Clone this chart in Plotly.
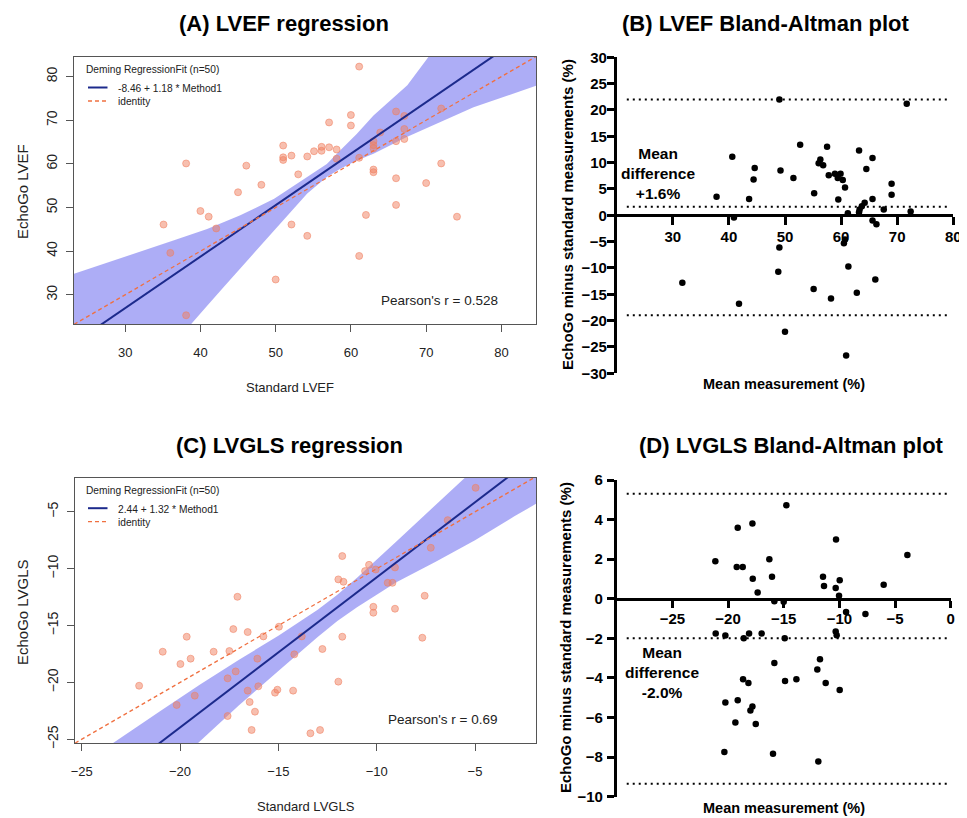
import plotly.graph_objects as go

# The page body adds an 8px margin at the top-left, so the figure is offset by it.
OFF = 8
W, H = 967 - OFF, 818 - OFF

# ---------------- (A) LVEF regression ----------------
lvef_standard = [61.1, 60.0, 60.0, 57.1, 66.0, 67.1, 72.0, 63.9, 67.1, 67.1, 66.0, 63.0, 63.0, 63.0,
                 56.1, 56.1, 55.1, 57.1, 58.1, 58.1, 54.2, 52.1, 51.0, 51.0, 51.0, 61.1, 63.0, 63.0,
                 53.0, 66.0, 70.0, 72.0, 38.1, 46.1, 48.1, 45.0, 40.0, 41.1, 42.1, 35.1, 52.1, 54.2,
                 36.0, 61.1, 50.0, 38.1, 66.0, 62.0, 74.1]
lvef_echogo = [82.3, 71.2, 68.8, 69.5, 72.0, 71.0, 72.7, 67.2, 68.0, 65.7, 65.2, 65.2, 64.3, 63.6,
               63.9, 63.0, 62.9, 63.8, 63.3, 61.2, 61.7, 61.9, 64.2, 61.5, 60.9, 61.4, 58.7, 58.1,
               57.6, 56.7, 55.6, 60.1, 60.1, 59.6, 55.2, 53.5, 49.2, 47.9, 45.2, 46.1, 46.1, 43.5,
               39.6, 38.9, 33.5, 25.3, 50.6, 48.3, 47.9]
lvef_intercept = -8.46
lvef_slope = 1.18
lvef_pearson = "0.528"
lvef_axis_range = [23.2, 84.6]
lvef_ticks = [30, 40, 50, 60, 70, 80]
lvef_ci_upper_x = [23.2, 27.6, 32.0, 36.5, 40.9, 45.3, 49.8, 54.2, 56.8, 58.6, 60.8, 63.0, 65.3, 67.5, 70.3, 84.6]
lvef_ci_upper_y = [34.8, 37.3, 39.8, 42.5, 45.1, 48.2, 52.0, 57.0, 60.0, 63.1, 66.9, 71.1, 74.6, 78.0, 84.5, 110.0]
lvef_ci_lower_x = [23.2, 38.7, 40.9, 43.1, 45.3, 48.0, 49.8, 52.0, 54.2, 56.8, 58.6, 60.8, 63.0, 67.5, 71.9, 76.3, 80.8, 84.6]
lvef_ci_lower_y = [-7.5, 23.0, 27.5, 31.8, 36.0, 41.3, 44.8, 49.0, 53.2, 57.0, 58.9, 60.8, 62.3, 66.2, 69.6, 73.0, 75.7, 77.9]

# ---------------- (B) LVEF Bland-Altman ----------------
lvef_ba_mean = [49.0, 71.7, 52.7, 57.5, 63.2, 40.6, 65.6, 56.3, 56.0, 56.8, 44.6, 64.5, 49.2, 58.9,
                59.9, 57.8, 59.4, 60.3, 51.5, 44.4, 69.0, 60.7, 55.2, 69.0, 37.8, 43.6, 59.5, 65.6,
                64.2, 63.7, 63.3, 67.6, 63.2, 61.2, 72.4, 40.9, 65.6, 66.3, 60.7, 60.5, 49.0, 48.8,
                61.3, 66.1, 31.7, 55.1, 62.8, 58.2, 41.8, 50.0, 60.9]
lvef_ba_diff = [22.0, 21.2, 13.4, 13.0, 12.3, 11.1, 10.9, 10.6, 9.9, 9.5, 9.0, 8.8, 8.5, 7.9,
                7.9, 7.6, 7.1, 6.7, 7.1, 6.8, 6.0, 5.3, 4.2, 3.9, 3.5, 3.1, 3.0, 3.1,
                2.4, 1.7, 1.1, 1.1, 0.6, 0.4, 0.7, -0.4, -1.0, -1.7, -4.6, -5.3, -6.1, -10.7,
                -9.7, -12.2, -12.8, -14.0, -14.7, -15.8, -16.8, -22.1, -26.6]
lvef_ba_lines = [22.0, 1.6, -19.0]
lvef_ba_line_span = [21.8, 79.4]
lvef_ba_xticks = [30, 40, 50, 60, 70, 80]
lvef_ba_yticks = [-30, -25, -20, -15, -10, -5, 0, 5, 10, 15, 20, 25, 30]
lvef_ba_label = "Mean<br>difference<br>+1.6%"
lvef_ba_label_pos = [27.3, 7.9]

# ---------------- (C) LVGLS regression ----------------
gls_standard = [-4.97, -6.39, -7.25, -11.75, -10.39, -10.59, -10.05, -9.07, -11.95, -11.69, -9.44, -9.2,
                -10.17, -10.17, -9.07, -7.56, -7.68, -17.08, -17.29, -16.56, -15.76, -14.97, -13.81,
                -11.75, -19.66, -20.88, -18.29, -17.49, -19.46, -19.98, -14.19, -12.76, -16.07, -17.17,
                -17.58, -22.08, -19.25, -20.17, -16.56, -16.02, -16.46, -15.17, -15.05, -14.25, -11.95,
                -16.19, -17.58, -16.36, -13.37, -12.88]
gls_echogo = [-2.89, -5.73, -8.16, -8.89, -9.66, -10.21, -10.07, -9.89, -10.94, -11.15, -11.24, -11.24,
              -13.35, -13.87, -13.52, -12.38, -16.07, -12.47, -15.31, -15.57, -15.95, -15.10, -15.95,
              -15.98, -15.98, -17.30, -17.30, -17.24, -17.91, -18.38, -17.53, -17.06, -17.91, -19.03,
              -19.64, -20.29, -21.16, -21.98, -20.72, -20.34, -21.72, -20.90, -20.64, -20.72, -19.93,
              -22.57, -22.95, -24.18, -24.47, -24.18]
gls_intercept = 2.44
gls_slope = 1.32
gls_pearson = "0.69"
gls_x_range = [-25.34, -1.9]
gls_y_range = [-25.35, -2.0]
gls_ticks = [-25, -20, -15, -10, -5]
gls_ci_x = [-25.34, -23.65, -21.0, -19.0, -17.0, -15.0, -13.0, -12.0, -11.0, -9.0, -7.0, -5.0, -3.0, -1.9]
gls_ci_upper = [-27.6, -25.6, -22.5, -20.2, -18.0, -15.9, -13.6, -12.3, -10.8, -7.6, -4.4, -1.2, 2.0, 3.8]
gls_ci_lower = [-35.0, -32.4, -28.3, -25.2, -22.0, -19.0, -16.0, -14.6, -13.4, -11.2, -9.4, -7.5, -5.4, -4.3]

# ---------------- (D) LVGLS Bland-Altman ----------------
gls_ba_mean = [-14.76, -17.81, -19.13, -10.30, -3.89, -21.14, -16.29, -19.22, -18.68, -16.05, -11.47,
               -17.78, -9.97, -6.02, -11.38, -10.33, -17.34, -10.03, -15.84, -15.0, -9.40, -7.66,
               -21.11, -20.24, -18.11, -16.98, -18.59, -14.91, -10.33, -10.24, -15.84, -11.74, -11.98,
               -18.65, -14.88, -13.86, -18.17, -11.23, -9.97, -20.24, -19.13, -17.81, -17.99, -19.34,
               -17.51, -20.33, -15.96, -11.89]
gls_ba_diff = [4.73, 3.80, 3.59, 3.0, 2.21, 1.90, 2.0, 1.60, 1.60, 1.11, 1.11, 1.01, 0.93, 0.71, 0.64,
               0.54, 0.32, 0.15, -0.12, -0.15, -0.67, -0.77, -1.75, -1.85, -1.75, -1.75, -1.99, -1.99,
               -1.65, -1.84, -3.25, -3.05, -3.57, -4.06, -4.16, -4.07, -4.26, -4.26, -4.61, -5.24,
               -5.13, -5.44, -5.64, -6.25, -6.33, -7.74, -7.83, -8.22]
gls_ba_lines = [5.3, -2.0, -9.35]
gls_ba_line_span = [-29.1, -0.3]
gls_ba_xticks = [-25, -20, -15, -10, -5, 0]
gls_ba_yticks = [-10, -8, -6, -4, -2, 0, 2, 4, 6]
gls_ba_label = "Mean<br>difference<br>-2.0%"
gls_ba_label_pos = [-25.9, -3.74]

# ---------------- styles ----------------
R_H = "Liberation Sans, Arial, sans-serif"
R_V = "Liberation Sans, Arial, sans-serif"
GP = "Liberation Sans, Arial, sans-serif"
BAND = "rgba(20,20,230,0.35)"
FITC = "#1c2a8c"
IDC = "#f07040"
PT_FILL = "rgba(240,128,96,0.5)"
PT_LINE = "rgba(240,128,96,0.55)"
BOX = "#555555"
TXT = "#222222"


def px(x):
    """window pixel x -> paper fraction"""
    return (x - OFF) / W


def py(y):
    """window pixel y -> paper fraction"""
    return 1 - (y - OFF) / H


fig = go.Figure()


def regression_panel(xa, ya, xs, ys, band_x, band_y, intercept, slope, xr):
    fig.add_trace(go.Scatter(x=band_x, y=band_y, fill="toself", fillcolor=BAND, mode="lines",
                             line=dict(width=0), hoverinfo="skip", showlegend=False,
                             xaxis=xa, yaxis=ya))
    fig.add_trace(go.Scatter(x=xs, y=ys, mode="markers", showlegend=False,
                             marker=dict(size=7, color=PT_FILL, line=dict(color=PT_LINE, width=1)),
                             xaxis=xa, yaxis=ya))
    fig.add_trace(go.Scatter(x=xr, y=[intercept + slope * v for v in xr], mode="lines",
                             line=dict(color=FITC, width=2), showlegend=False, xaxis=xa, yaxis=ya))
    fig.add_trace(go.Scatter(x=xr, y=xr, mode="lines",
                             line=dict(color=IDC, width=1.3, dash="4px,3px"), showlegend=False,
                             xaxis=xa, yaxis=ya))


regression_panel("x", "y", lvef_standard, lvef_echogo,
                 lvef_ci_upper_x + lvef_ci_lower_x[::-1], lvef_ci_upper_y + lvef_ci_lower_y[::-1],
                 lvef_intercept, lvef_slope, lvef_axis_range)
regression_panel("x3", "y3", gls_standard, gls_echogo,
                 gls_ci_x + gls_ci_x[::-1], gls_ci_upper + gls_ci_lower[::-1],
                 gls_intercept, gls_slope, gls_x_range)


def ba_panel(xa, ya, xs, ys, lines, span):
    for v in lines:
        fig.add_trace(go.Scatter(x=span, y=[v, v], mode="lines", showlegend=False,
                                 line=dict(color="black", width=2, dash="2px,4px"),
                                 xaxis=xa, yaxis=ya))
    fig.add_trace(go.Scatter(x=xs, y=ys, mode="markers", showlegend=False,
                             marker=dict(size=6.5, color="black"), xaxis=xa, yaxis=ya))


ba_panel("x2", "y2", lvef_ba_mean, lvef_ba_diff, lvef_ba_lines, lvef_ba_line_span)
ba_panel("x4", "y4", gls_ba_mean, gls_ba_diff, gls_ba_lines, gls_ba_line_span)

r_x = dict(showgrid=False, zeroline=False, showline=True, mirror=True, linecolor=BOX, linewidth=1.3,
           ticks="outside", ticklen=7, tickcolor=BOX, tickwidth=1.2, automargin=False,
           tickfont=dict(family=R_H, size=13, color=TXT), ticklabelstandoff=9)
r_y = dict(showgrid=False, zeroline=False, showline=True, mirror=True, linecolor=BOX, linewidth=1.3,
           ticks="outside", ticklen=7, tickcolor=BOX, tickwidth=1.2, tickangle=-90, automargin=False,
           tickfont=dict(family=R_V, size=14, color=TXT), ticklabelstandoff=3)
gp_ax = dict(showgrid=False, zeroline=False, showline=True, linecolor="black", linewidth=2.5,
             ticks="outside", tickcolor="black", tickwidth=2.5, automargin=False,
             tickfont=dict(family=GP, size=15, color="black", weight="bold"))

fig.update_layout(
    width=W, height=H, autosize=False, margin=dict(l=0, r=0, t=0, b=0, pad=0),
    paper_bgcolor="white", plot_bgcolor="white", showlegend=False,
    xaxis=dict(domain=[px(74), px(536)], range=lvef_axis_range, tickvals=lvef_ticks, anchor="y", **r_x),
    yaxis=dict(domain=[py(324), py(57)], range=[23.3, 84.5], tickvals=lvef_ticks, anchor="x", **r_y),
    xaxis3=dict(domain=[px(75), px(536)], range=gls_x_range, tickvals=gls_ticks, anchor="y3", **r_x),
    yaxis3=dict(domain=[py(743.3), py(477.7)], range=gls_y_range, tickvals=gls_ticks, anchor="x3", **r_y),
    xaxis2=dict(domain=[px(616.7), px(953.3)], range=[20, 80], tickvals=lvef_ba_xticks,
                anchor="free", position=py(215), ticklen=8, ticklabelstandoff=-1, **gp_ax),
    yaxis2=dict(domain=[py(373.3), py(57.3)], range=[-30, 30], tickvals=lvef_ba_yticks,
                anchor="x2", ticklen=7, ticklabelstandoff=-3, **gp_ax),
    xaxis4=dict(domain=[px(616.7), px(950.7)], range=[-30, 0], tickvals=gls_ba_xticks,
                anchor="free", position=py(599.3), ticklen=7, ticklabelstandoff=-2, **gp_ax),
    yaxis4=dict(domain=[py(796.7), py(480)], range=[-10, 6], tickvals=gls_ba_yticks,
                anchor="x4", ticklen=7, ticklabelstandoff=1, **gp_ax),
)

ann = []


def text(x, y, s, size, family, color="black", bold=False, angle=0, xanchor="center", yanchor="middle"):
    ann.append(dict(x=px(x), y=py(y), xref="paper", yref="paper", text=s, showarrow=False,
                    xanchor=xanchor, yanchor=yanchor, textangle=angle,
                    font=dict(family=family, size=size, color=color, weight="bold" if bold else "normal")))


# panel titles
text(283.5, 24, "(A) LVEF regression", 22, GP, bold=True)
text(765, 24, "(B) LVEF Bland-Altman plot", 22, GP, bold=True)
text(289, 445, "(C) LVGLS regression", 22, GP, bold=True)
text(791, 445, "(D) LVGLS Bland-Altman plot", 22, GP, bold=True)

# R panel axis titles
text(22, 192, "EchoGo LVEF", 15, R_V, color=TXT, angle=-90)
text(290, 387, "Standard LVEF", 13, R_H, color=TXT)
text(22, 612, "EchoGo LVGLS", 15, R_V, color=TXT, angle=-90)
text(305.5, 806, "Standard LVGLS", 13, R_H, color=TXT)

# Pearson
text(500, 300, "Pearson's r = " + lvef_pearson, 13.5, R_H, color=TXT, xanchor="right")
text(500, 719, "Pearson's r = " + gls_pearson, 13.5, R_H, color=TXT, xanchor="right")

# manual legends (R style)
shapes = []
for top, label in [(57, "%.2f + %.2f * Method1" % (lvef_intercept, lvef_slope)),
                   (477.7, "%.2f + %.2f * Method1" % (gls_intercept, gls_slope))]:
    text(84, top + 13, "Deming RegressionFit (n=50)", 10.2, R_H, color=TXT, xanchor="left")
    text(115.5, top + 31.5, label, 10.2, R_H, color=TXT, xanchor="left")
    text(115.5, top + 45, "identity", 10.2, R_H, color=TXT, xanchor="left")
    shapes.append(dict(type="line", xref="paper", yref="paper", x0=px(88), x1=px(107.5),
                       y0=py(top + 30.5), y1=py(top + 30.5), line=dict(color=FITC, width=2)))
    shapes.append(dict(type="line", xref="paper", yref="paper", x0=px(88), x1=px(107.5),
                       y0=py(top + 44), y1=py(top + 44), line=dict(color=IDC, width=1.3, dash="4px,3px")))

# Bland-Altman titles
text(568, 215, "EchoGo minus standard measurements (%)", 15, GP, bold=True, angle=-90)
text(565, 638, "EchoGo minus standard measurements (%)", 15, GP, bold=True, angle=-90)
text(784, 384, "Mean measurement (%)", 14.5, GP, bold=True)
text(784, 808, "Mean measurement (%)", 14.5, GP, bold=True)

# mean difference labels (data coordinates)
ann.append(dict(x=lvef_ba_label_pos[0], y=lvef_ba_label_pos[1], xref="x2", yref="y2",
                text=lvef_ba_label, showarrow=False,
                font=dict(family=GP, size=15.5, color="black", weight="bold")))
ann.append(dict(x=gls_ba_label_pos[0], y=gls_ba_label_pos[1], xref="x4", yref="y4",
                text=gls_ba_label, showarrow=False,
                font=dict(family=GP, size=15.5, color="black", weight="bold")))

fig.update_layout(annotations=ann, shapes=shapes)
fig.write_html("out.html")
